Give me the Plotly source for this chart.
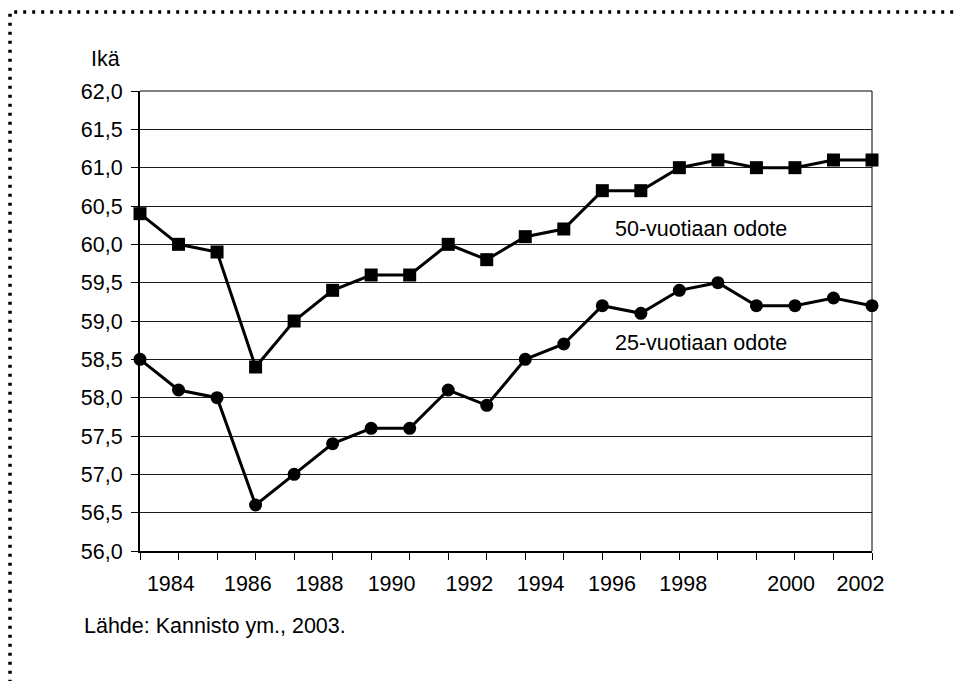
import plotly.graph_objects as go

years = [1983, 1984, 1985, 1986, 1987, 1988, 1989, 1990, 1991, 1992,
         1993, 1994, 1995, 1996, 1997, 1998, 1999, 2000, 2001, 2002]
odote_50 = [60.4, 60.0, 59.9, 58.4, 59.0, 59.4, 59.6, 59.6, 60.0, 59.8,
            60.1, 60.2, 60.7, 60.7, 61.0, 61.1, 61.0, 61.0, 61.1, 61.1]
odote_25 = [58.5, 58.1, 58.0, 56.6, 57.0, 57.4, 57.6, 57.6, 58.1, 57.9,
            58.5, 58.7, 59.2, 59.1, 59.4, 59.5, 59.2, 59.2, 59.3, 59.2]
x_tick_labels = ["1984", "1986", "1988", "1990", "1992", "1994", "1996", "1998", "2000", "2002"]
y_tick_values = [56.0, 56.5, 57.0, 57.5, 58.0, 58.5, 59.0, 59.5, 60.0, 60.5, 61.0, 61.5, 62.0]

# label positions as in the original (offset from the tick marks)
x_label_pos = [1983.8, 1985.8, 1987.66, 1989.53, 1991.55, 1993.4, 1995.25, 1997.1, 1999.9, 2001.7]

FONT = "Liberation Sans, Arial, sans-serif"
FS = 21.5

# page offset (body margin) ~8px; plot area target on screen: x 140..872, y 91..551
fig = go.Figure()
fig.add_trace(go.Scatter(
    x=years, y=odote_50, mode="lines+markers", name="50-vuotiaan odote",
    line=dict(color="black", width=3),
    marker=dict(symbol="square", size=13, color="black"),
    cliponaxis=False, showlegend=False))
fig.add_trace(go.Scatter(
    x=years, y=odote_25, mode="lines+markers", name="25-vuotiaan odote",
    line=dict(color="black", width=3),
    marker=dict(symbol="circle", size=13, color="black"),
    cliponaxis=False, showlegend=False))

fig.update_layout(
    width=965, height=681,
    margin=dict(l=132, r=101, t=83, b=138),
    paper_bgcolor="white", plot_bgcolor="white",
    separators=", ",
    font=dict(family=FONT, size=FS, color="black"),
    xaxis=dict(
        range=[1983, 2002], showgrid=False, zeroline=False,
        showline=True, linecolor="black", linewidth=2,
        tickmode="array", tickvals=x_label_pos, ticktext=x_tick_labels,
        ticks="", ticklabelstandoff=12,
        tickfont=dict(family=FONT, size=FS, color="black"),
        minor=dict(tickmode="linear", tick0=1983, dtick=1, ticks="outside",
                   ticklen=7, tickcolor="black", tickwidth=1, showgrid=False),
    ),
    yaxis=dict(
        range=[56, 62], showgrid=True, gridcolor="#1a1a1a", gridwidth=1,
        zeroline=False, showline=True, linecolor="black", linewidth=2,
        tickmode="array", tickvals=y_tick_values, tickformat=".1f",
        ticks="outside", ticklen=7, tickcolor="black", tickwidth=1,
        ticklabelstandoff=4,
        tickfont=dict(family=FONT, size=FS, color="black"),
    ),
    shapes=[
        dict(type="line", xref="paper", yref="paper", x0=1, x1=1, y0=0, y1=1,
             line=dict(color="black", width=1)),
        dict(type="line", xref="paper", yref="paper", x0=0, x1=1, y0=1, y1=1,
             line=dict(color="black", width=1)),
        dict(type="rect", xref="paper", yref="paper",
             x0=(10 - 140) / 732, x1=1.3, y0=-0.5, y1=(551 - 12) / 460,
             line=dict(color="black", width=3.5, dash="3px,6px")),
    ],
    annotations=[
        dict(x=1997.55, y=60.2, xref="x", yref="y", text="50-vuotiaan odote",
             showarrow=False, font=dict(family=FONT, size=FS, color="black")),
        dict(x=1997.55, y=58.71, xref="x", yref="y", text="25-vuotiaan odote",
             showarrow=False, font=dict(family=FONT, size=FS, color="black")),
        dict(x=(89 - 140) / 732, y=(551 - 59) / 460, xref="paper", yref="paper",
             xanchor="left", yanchor="middle", text="Ikä", showarrow=False,
             font=dict(family=FONT, size=FS, color="black")),
        dict(x=(82 - 140) / 732, y=(551 - 626) / 460, xref="paper", yref="paper",
             xanchor="left", yanchor="middle", text="Lähde: Kannisto ym., 2003.",
             showarrow=False, font=dict(family=FONT, size=FS, color="black")),
    ],
)

fig.write_html("out.html")
